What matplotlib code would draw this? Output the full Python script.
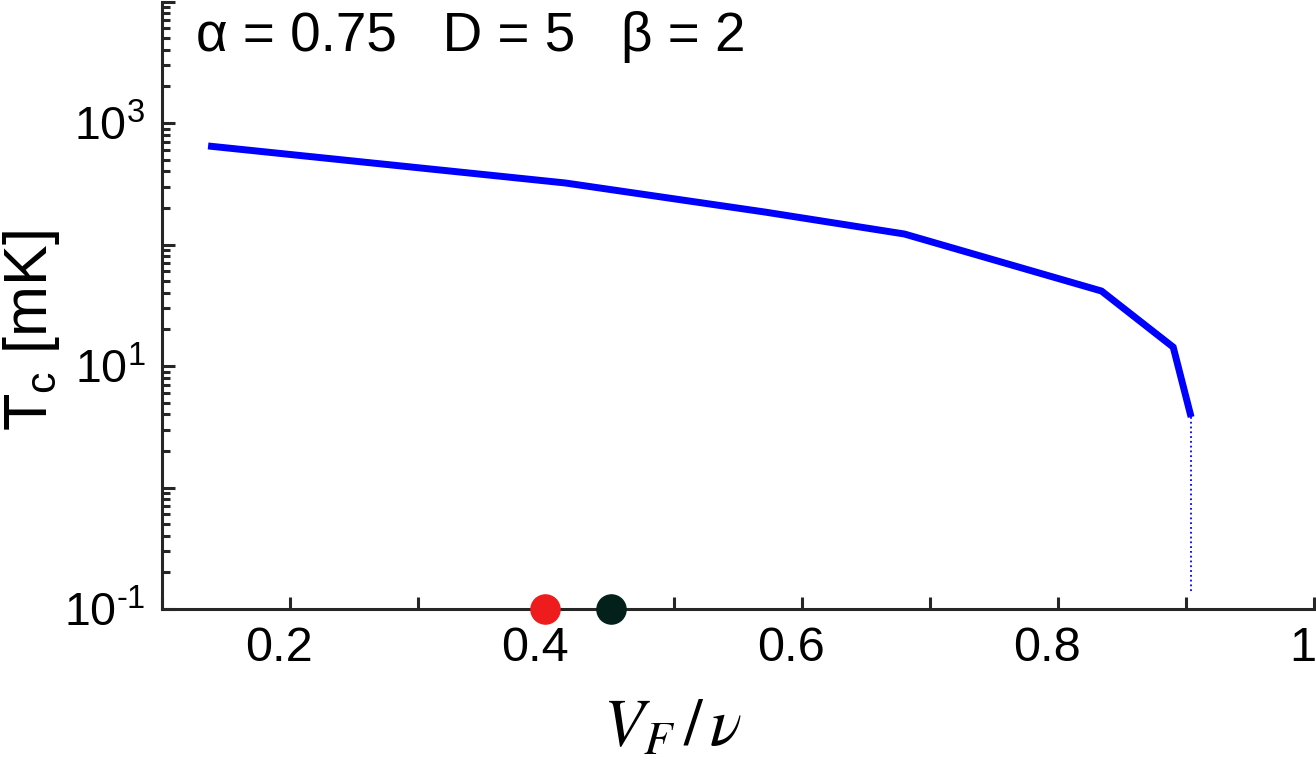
import numpy as np
import matplotlib
matplotlib.use("Agg")
import matplotlib.pyplot as plt
from matplotlib.ticker import FixedLocator, FuncFormatter, LogLocator
from matplotlib.transforms import ScaledTranslation

plt.rcParams['font.family'] = ['Liberation Sans', 'DejaVu Sans']
plt.rcParams['axes.unicode_minus'] = False
plt.rcParams['mathtext.fontset'] = 'custom'
plt.rcParams['mathtext.rm'] = 'Liberation Sans'
plt.rcParams['mathtext.it'] = 'Liberation Sans:italic'
plt.rcParams['mathtext.bf'] = 'Liberation Sans:bold'

# curve Tc(V_F/v)
vf = [0.136, 0.415, 0.571, 0.680, 0.834, 0.890, 0.904]
tc = [647, 321, 185, 122, 41.4, 14.3, 3.8]

# dotted drop to the axis at the end of the curve
drop_y = [3.8, 0.135]

# the two dots on the bottom axis
dot_x = [0.399, 0.451]
dot_c = ['#ee1c1c', '#03201a']

params = 'α = 0.75   D = 5   β = 2'
xtick_vals = [0.1, 0.2, 0.3, 0.4, 0.5, 0.6, 0.7, 0.8, 0.9, 1.0]
xtick_show = [0.2, 0.4, 0.6, 0.8, 1.0]
ytick_vals = [0.1, 1, 10, 100, 1000, 10000]
ytick_show = [-1, 1, 3]

axc = '#262626'


def ylab(v, pos):
    e = int(round(np.log10(v)))
    if e not in ytick_show:
        return ''
    return r'$\mathregular{10^{\text{%d}}}$' % e


fig = plt.figure(figsize=(13.16, 7.68), dpi=100)
ax = fig.add_axes([162 / 1316, 159 / 768, 1152 / 1316, 607.5 / 768])

ax.plot(vf, tc, color='#0000ff', lw=5, solid_joinstyle='miter', solid_capstyle='butt', zorder=3)
ax.plot([vf[-1], vf[-1]], drop_y, color='#0000ff', lw=1.3, ls=':', zorder=2)
for x, c in zip(dot_x, dot_c):
    ax.plot(x, 0.1, 'o', ms=21, color=c, mec=c, clip_on=False, zorder=5)

ax.set_yscale('log')
ax.set_xlim(0.1, 1.0)
ax.set_ylim(0.1, 1e4)

ax.xaxis.set_major_locator(FixedLocator(xtick_vals))
ax.xaxis.set_major_formatter(FuncFormatter(
    lambda v, p: (('%g' % v) if any(abs(v - s) < 1e-6 for s in xtick_show) else '')))
ax.yaxis.set_major_locator(FixedLocator(ytick_vals))
ax.yaxis.set_minor_locator(LogLocator(base=10, subs=np.arange(2, 10), numticks=20))
ax.yaxis.set_major_formatter(FuncFormatter(ylab))
ax.yaxis.set_minor_formatter(FuncFormatter(lambda v, p: ''))

for s in ['top', 'right']:
    ax.spines[s].set_visible(False)
for s in ['left', 'bottom']:
    ax.spines[s].set_linewidth(2.2)
    ax.spines[s].set_color(axc)

ax.tick_params(which='major', direction='in', length=9, width=2.2, color=axc,
               labelcolor='black')
ax.tick_params(which='minor', direction='in', length=5.5, width=2.2, color=axc)
ax.tick_params(axis='x', pad=12, labelsize=35)
ax.tick_params(axis='y', pad=12, labelsize=33.5)

# x tick labels sit a little left of their ticks in the reference
shift = ScaledTranslation(-11 / 100, 0, fig.dpi_scale_trans)
for t in ax.xaxis.get_major_ticks():
    t.label1.set_transform(t.label1.get_transform() + shift)

ax.text(0.0295, 0.9416, params, transform=ax.transAxes, fontsize=39.5,
        ha='left', va='center')

ax.set_xlabel(r'$V_F\,/\,\nu$', fontsize=48, math_fontfamily='stix')
ax.xaxis.label.set_va('baseline')
ax.xaxis.set_label_coords(0.443, -0.224)

ax.set_ylabel(r'T$_{\mathregular{c}}$ [mK]', fontsize=44)
ax.yaxis.label.set_va('center')
ax.yaxis.set_label_coords(-0.1137, 0.458)

fig.savefig('out.png', dpi=100)
